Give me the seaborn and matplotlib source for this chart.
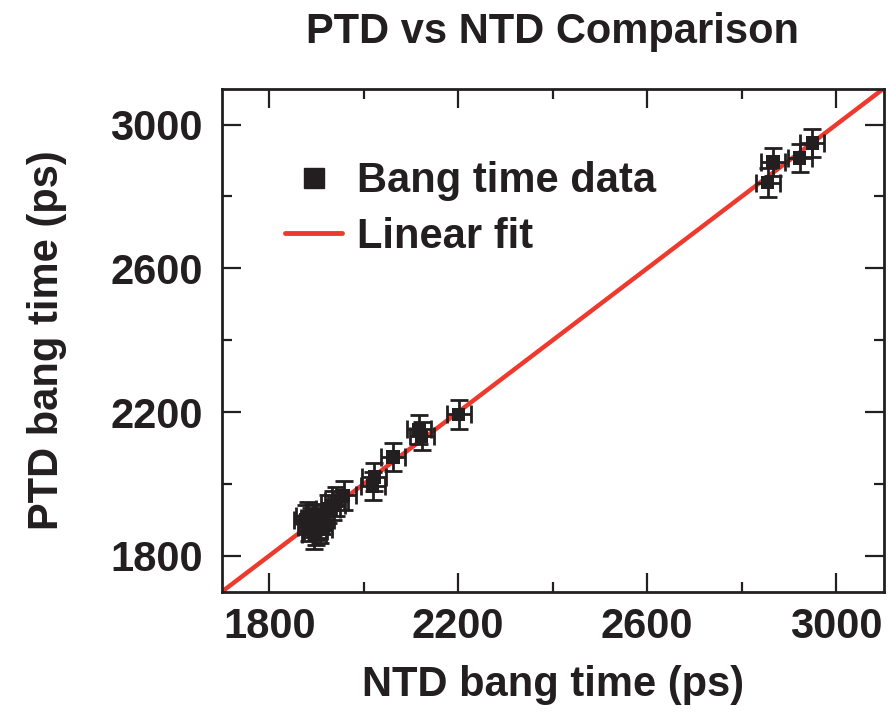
import numpy as np
import pandas as pd
import matplotlib
matplotlib.use("Agg")
import matplotlib.pyplot as plt
from matplotlib.lines import Line2D
from matplotlib.ticker import MultipleLocator
import seaborn as sns

# ---- data ----
ntd_time = [1878, 1885, 1892, 1898, 1903, 1908, 1882, 1895, 1888, 1900, 1912,
            1925, 1935, 1942, 1958, 2019, 2022, 2062, 2117, 2123, 2201,
            2855, 2866, 2923, 2949]
ptd_time = [1900, 1880, 1905, 1870, 1890, 1875, 1910, 1860, 1892, 1885, 1900,
            1930, 1940, 1952, 1968, 1994, 2019, 2075, 2152, 2133, 2194,
            2838, 2896, 2907, 2949]
ntd_err = [25] * len(ntd_time)
ptd_err = [40] * len(ptd_time)
fit_slope = 1.0
fit_intercept = 0.0
x_range = [1700, 3100]
y_range = [1700, 3100]
major_ticks = [1800, 2200, 2600, 3000]

df = pd.DataFrame({"NTD": ntd_time, "PTD": ptd_time,
                   "xerr": ntd_err, "yerr": ptd_err})
fit_df = pd.DataFrame({"x": x_range,
                       "y": [fit_slope * v + fit_intercept for v in x_range]})

sns.set_style("ticks")
plt.rcParams["font.family"] = ["Liberation Sans", "DejaVu Sans"]
plt.rcParams["font.weight"] = "bold"

BLACK = "#231F20"
RED = "#EE3A2E"

fig = plt.figure(figsize=(8.9, 7.2), dpi=100)
ax = fig.add_axes([0.2494, 0.1782, 0.9927 - 0.2494, 0.8768 - 0.1782])

sns.lineplot(data=fit_df, x="x", y="y", ax=ax, color=RED, lw=3.2, zorder=1)
ax.errorbar(df["NTD"], df["PTD"], xerr=df["xerr"], yerr=df["yerr"], fmt="none",
            ecolor=BLACK, elinewidth=2.0, capsize=6.5, capthick=2.0, zorder=2)
sns.scatterplot(data=df, x="NTD", y="PTD", ax=ax, marker="s", s=90,
                color=BLACK, edgecolor="none", zorder=3)

ax.set_xlim(*x_range)
ax.set_ylim(*y_range)
ax.xaxis.set_minor_locator(MultipleLocator(200))
ax.yaxis.set_minor_locator(MultipleLocator(200))
ax.set_xticks(major_ticks)
ax.set_yticks(major_ticks)

ax.tick_params(which="both", direction="in", top=True, right=True,
               color=BLACK, width=1.6)
ax.tick_params(which="major", length=13.7)
ax.tick_params(which="minor", length=7)
ax.tick_params(axis="x", which="major", labelsize=30, pad=11, labelcolor=BLACK)
ax.tick_params(axis="y", which="major", labelsize=30, pad=14, labelcolor=BLACK)
for lab in ax.get_xticklabels() + ax.get_yticklabels():
    lab.set_fontweight("bold")
for s in ax.spines.values():
    s.set_color(BLACK)
    s.set_linewidth(2)

ax.set_xlabel("NTD bang time (ps)", fontsize=30, fontweight="bold",
              color=BLACK, labelpad=13)
ax.set_ylabel("PTD bang time (ps)", fontsize=30, fontweight="bold",
              color=BLACK, labelpad=31)
ax.set_title("PTD vs NTD Comparison", fontsize=30, fontweight="bold",
             color=BLACK, pad=33)

handles = [Line2D([], [], ls="none", marker="s", markersize=14, color=BLACK),
           Line2D([], [], color=RED, lw=3.5)]
leg = ax.legend(handles, ["Bang time data", "Linear fit"], loc="upper left",
                bbox_to_anchor=(0.095, 0.856), frameon=False,
                handlelength=1.38, handletextpad=0.36, borderpad=0,
                borderaxespad=0, labelspacing=0.37,
                prop={"weight": "bold", "size": 30})
for t in leg.get_texts():
    t.set_color(BLACK)

fig.savefig("out.png", dpi=100)
